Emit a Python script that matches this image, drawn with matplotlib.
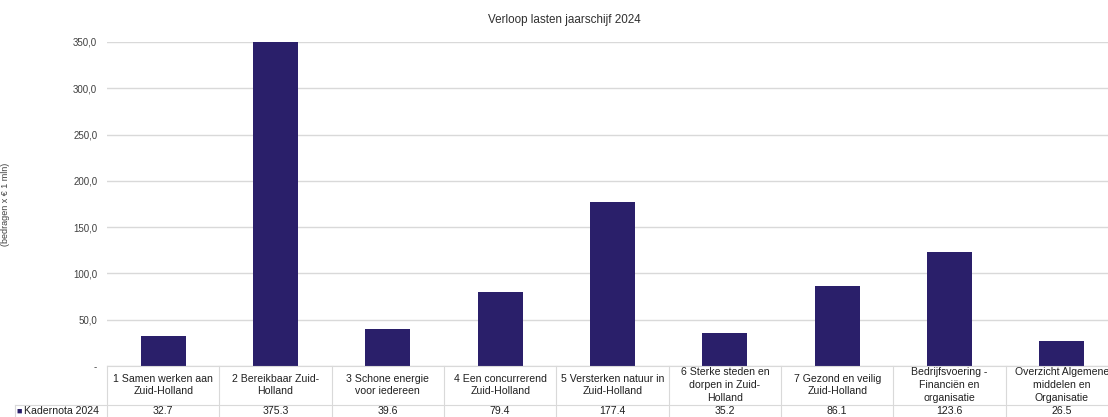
import numpy as np
import matplotlib
matplotlib.use('Agg')
import matplotlib.pyplot as plt

plt.rcParams['font.family'] = ['Liberation Sans', 'DejaVu Sans']

categories = [
    "1 Samen werken aan\nZuid-Holland",
    "2 Bereikbaar Zuid-\nHolland",
    "3 Schone energie\nvoor iedereen",
    "4 Een concurrerend\nZuid-Holland",
    "5 Versterken natuur in\nZuid-Holland",
    "6 Sterke steden en\ndorpen in Zuid-\nHolland",
    "7 Gezond en veilig\nZuid-Holland",
    "Bedrijfsvoering -\nFinanciën en\norganisatie",
    "Overzicht Algemene\nmiddelen en\nOrganisatie",
]
values = [32.7, 375.3, 39.6, 79.4, 177.4, 35.2, 86.1, 123.6, 26.5]
value_labels = ["32.7", "375.3", "39.6", "79.4", "177.4", "35.2", "86.1", "123.6", "26.5"]
series_name = "Kadernota 2024"
yticks = [0, 50, 100, 150, 200, 250, 300, 350]
ytick_labels = ["-", "50,0", "100,0", "150,0", "200,0", "250,0", "300,0", "350,0"]

W, H = 1108, 417
bar_color = '#2a1f6a'
grid_color = '#d9d9d9'
text_color = '#404040'

fig = plt.figure(figsize=(W / 100, H / 100), dpi=100)
# plot area in pixels: left 107, right ~1118 (cut off), top 42, bottom 366
left, right, top, bottom = 107, 1118, 42, 366
ax = fig.add_axes([left / W, 1 - bottom / H, (right - left) / W, (bottom - top) / H])

x = np.arange(len(values)) + 0.5
ax.bar(x, values, width=0.4, color=bar_color, zorder=3)
ax.set_xlim(0, len(values))
ax.set_ylim(0, 350)

ax.set_yticks(yticks)
ax.set_yticklabels(ytick_labels, fontsize=7, color=text_color)
ax.tick_params(axis='y', length=0, pad=7)
ax.set_xticks([])
ax.grid(axis='y', color=grid_color, linewidth=1, zorder=0)
for s in ax.spines.values():
    s.set_visible(False)

ax.set_ylabel("(bedragen x € 1 mln)", fontsize=6.5, color=text_color)
ax.yaxis.set_label_coords((10 - left) / (right - left), 0.5)

fig.text(564 / W, 1 - 20 / H, "Verloop lasten jaarschijf 2024",
         fontsize=8.4, color='#303030', ha='center', va='center')

# data table under the axis
tr = ax.get_xaxis_transform()
ph = bottom - top
def yf(py):
    return (bottom - py) / ph

lw = 0.8
ax.plot([0, len(values)], [0, 0], transform=tr, color=grid_color, lw=lw, clip_on=False, zorder=4)
for i in range(len(values) + 1):
    ax.plot([i, i], [0, yf(420)], transform=tr, color=grid_color, lw=lw, clip_on=False)
leg_x = (15 - left) / (right - left) * len(values)
ax.plot([leg_x, len(values)], [yf(405), yf(405)], transform=tr, color=grid_color, lw=lw, clip_on=False)
ax.plot([leg_x, leg_x], [yf(405), yf(420)], transform=tr, color=grid_color, lw=lw, clip_on=False)

for i, (lab, vl) in enumerate(zip(categories, value_labels)):
    ax.text(i + 0.5, yf(385), lab, transform=tr, ha='center', va='center',
            fontsize=7.6, color='#202020', linespacing=1.32, clip_on=False)
    ax.text(i + 0.5, yf(411.5), vl, transform=tr, ha='center', va='center',
            fontsize=7.6, color='#202020', clip_on=False)

fig.text(16 / W, 1 - 411.5 / H, "\u25a0", fontsize=6.5, color=bar_color, ha='left', va='center')
fig.text(24 / W, 1 - 411.5 / H, series_name, fontsize=7.6, color='#202020', ha='left', va='center')

fig.savefig('out.png', dpi=100)
